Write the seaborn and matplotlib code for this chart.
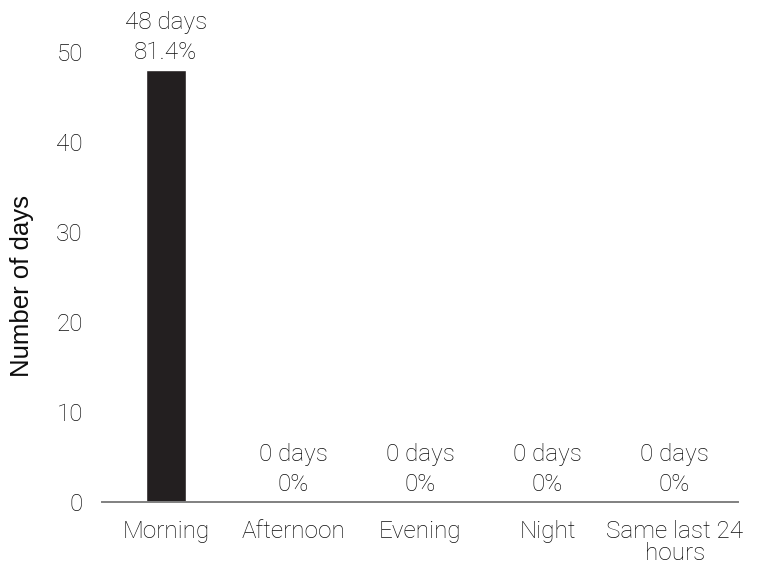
import matplotlib
matplotlib.use("Agg")
import matplotlib.pyplot as plt
import seaborn as sns
import pandas as pd

categories = ["Morning", "Afternoon", "Evening", "Night", "Same last 24\nhours"]
days = [48, 0, 0, 0, 0]
percents = ["81.4%", "0%", "0%", "0%", "0%"]
y_ticks = [0, 10, 20, 30, 40, 50]

sns.set_theme(style="white")
plt.rcParams["font.family"] = ["Roboto", "DejaVu Sans"]

df = pd.DataFrame({"period": categories, "days": days})

fig = plt.figure(figsize=(7.6, 5.64), dpi=100)
ax = fig.add_axes([0.1346, 0.1099, 0.8368, 0.7979])

sns.barplot(data=df, x="period", y="days", color="#231f20", width=0.315,
            saturation=1, ax=ax)

ax.set_ylim(0, 50)
ax.set_yticks(y_ticks)
ax.set_xlim(-0.5, len(categories) - 0.5)

text_color = "#0d0d0d"
for i, (d, p) in enumerate(zip(days, percents)):
    ax.annotate(f"{d} days\n{p}", xy=(i, d), xytext=(0, 4),
                textcoords="offset points", ha="center", va="bottom",
                fontsize=17.5, fontweight="light", color=text_color,
                linespacing=1.4, annotation_clip=False)

for lbl in ax.get_xticklabels() + ax.get_yticklabels():
    lbl.set_fontsize(17.5)
    lbl.set_fontweight("light")
    lbl.set_color(text_color)
    lbl.set_linespacing(0.95)

ax.tick_params(axis="x", length=0, pad=13)
ax.tick_params(axis="y", length=0, pad=14)

ax.set_xlabel("")
ax.set_ylabel("Number of days", fontsize=18.5, color=text_color,
              family=["Liberation Sans", "DejaVu Sans"])
ax.yaxis.set_label_coords(-0.107, 0.48)

for side in ["top", "right", "left"]:
    ax.spines[side].set_visible(False)
ax.spines["bottom"].set_color("#808080")
ax.spines["bottom"].set_linewidth(1.4)

fig.savefig("out.png", dpi=100)
